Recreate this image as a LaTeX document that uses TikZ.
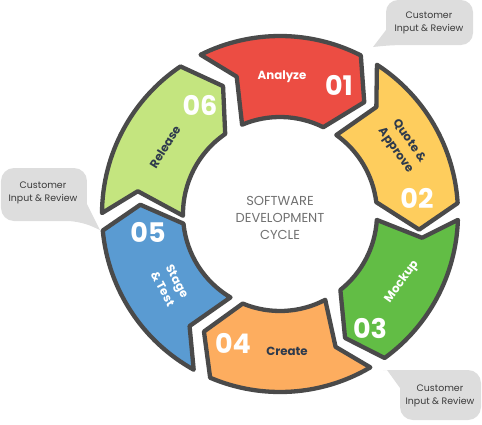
\documentclass[tikz,border=0pt]{standalone}
\usepackage{fontspec}
\setmainfont{Poppins}

\definecolor{ringline}{HTML}{4A4A4A}
\definecolor{redseg}{HTML}{EC4D43}
\definecolor{yellowseg}{HTML}{FECD5D}
\definecolor{greenseg}{HTML}{62BD45}
\definecolor{orangeseg}{HTML}{FDAD5F}
\definecolor{blueseg}{HTML}{5A9BD2}
\definecolor{limeseg}{HTML}{C4E57F}
\definecolor{bubblegray}{HTML}{DDDDDD}
\definecolor{bubbleink}{HTML}{3A3A3A}
\definecolor{centerink}{HTML}{707070}
\definecolor{navyink}{HTML}{2E3A4C}

% one arrow-shaped piece of the ring:
% #1 fill, #2/#3 outer corners, #4 tip, #5/#6 inner corners, #7 notch
\newcommand\ringseg[7]{%
  \draw[segment, fill=#1] (#2:178) arc[start angle=#2, end angle=#3, radius=178]
    -- (#4:140) -- (#5:97) arc[start angle=#5, end angle=#6, radius=97]
    -- (#7:144) -- cycle;}

\begin{document}
\begin{tikzpicture}[x=1pt, y=1pt,
  segment/.style={draw=ringline, line width=4.3pt, line join=round},
  num/.style={text=white, font=\fontsize{27}{27}\selectfont\bfseries, inner sep=0pt},
  lbl/.style={font=\fontsize{11.8}{16.5}\selectfont\bfseries, align=center, inner sep=0pt},
  bubble/.style={fill=bubblegray},
  bubbletext/.style={font=\fontsize{9.4}{12.5}\selectfont, text=bubbleink, align=center, inner sep=0pt}]

% ring pieces, centred on the origin
\ringseg{redseg}{116.5}{63}{53}{63.5}{113}{107.5}
\ringseg{yellowseg}{57}{3.5}{-6.4}{7}{54.5}{48}
\ringseg{greenseg}{-1.9}{-54}{-62.3}{-51.5}{-3.5}{-9.5}
\ringseg{orangeseg}{-59.5}{-113.1}{-122.9}{-112.6}{-62.2}{-67.3}
\ringseg{blueseg}{-119}{-174.7}{-183.8}{-174.3}{-120.7}{-128.9}
\ringseg{limeseg}{-180.3}{-236}{-246}{-235.6}{-179}{-189.1}

% labels, callouts and frame in page coordinates (y downwards)
\begin{scope}[shift={(-280,214)}, yscale=-1]
  \useasboundingbox (0,0) rectangle (482,424);

  \node[num] (n01) at (339,85) {01};
  \node[num] (n02) at (417,198) {02};
  \node[num] (n03) at (370,328) {03};
  \node[num] (n04) at (233,343) {04};
  \node[num] (n05) at (148,232) {05};
  \node[num] (n06) at (200,105) {06};

  \node[lbl, text=white] (l01) at (282,77) {Analyze};
  \node[lbl, text=navyink, rotate=-55] (l02) at (402,146) {Quote \&\\Approve};
  \node[lbl, text=white, rotate=54] (l03) at (402,282) {Mockup};
  \node[lbl, text=navyink] (l04) at (287,351) {Create};
  \node[lbl, text=white, rotate=-62] (l05) at (170,285) {Stage\\\& Test};
  \node[lbl, text=navyink, rotate=58] (l06) at (165,147) {Release};

  \node[font=\fontsize{13}{17}\selectfont, text=centerink, align=center, inner sep=0pt]
    (hub) at (280,218) {SOFTWARE\\DEVELOPMENT\\CYCLE};

  % speech bubbles
  \path[bubble] (386,30) [rounded corners=12] -- (386,0) -- (473,0) -- (473,45)
    -- (392,45) [sharp corners] -- (373,47) -- cycle;
  \node[bubbletext] (c1) at (429,23) {Customer\\Input \& Review};

  \path[bubble] (87,204) [rounded corners=13] -- (87,168) -- (1,168) -- (1,221)
    -- (80,221) [sharp corners] -- (100,230) -- cycle;
  \node[bubbletext] (c2) at (43,193) {Customer\\Input \& Review};

  \path[bubble] (400,388) [rounded corners=13] -- (400,420) -- (481,420) -- (481,370)
    -- (396,370) [sharp corners] -- (387,370) -- cycle;
  \node[bubbletext] (c3) at (440,396) {Customer\\Input \& Review};
\end{scope}
\end{tikzpicture}
\end{document}
